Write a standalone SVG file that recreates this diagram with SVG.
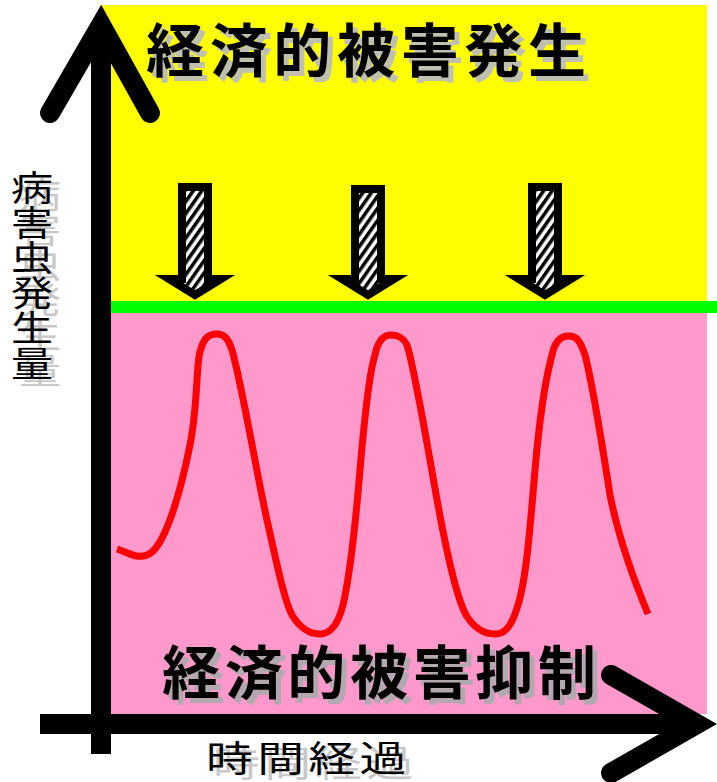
<svg xmlns="http://www.w3.org/2000/svg" width="717" height="782" viewBox="0 0 717 782">
<style>
.title{font-family:"Noto Sans CJK JP","Noto Sans CJK SC",sans-serif;font-weight:bold;font-size:58px;}
.lbl{font-family:"Noto Sans CJK JP","Noto Sans CJK SC",sans-serif;font-size:35px;}
.ax{fill:none;stroke:#000;stroke-width:20;}
.blk{fill:url(#hatch);stroke:#000;stroke-width:8;stroke-linejoin:miter;stroke-miterlimit:10;}
</style>
<defs>
<pattern id="hatch" width="7" height="7" patternUnits="userSpaceOnUse" patternTransform="rotate(35)">
<rect width="7" height="7" fill="#fff"/>
<rect width="3.5" height="7" fill="#000"/>
</pattern>
</defs>
<g id="zones">
<rect x="101" y="5" width="606" height="297" fill="#ffff00"/>
<rect x="101" y="313" width="606" height="401" fill="#ff99cc"/>
<rect x="101" y="301" width="616" height="12" fill="#00ff00"/>
</g>
<g id="curve">
<path d="M117,549 C127,552 140,562 152,552 C166,540 180,495 190,445 C198,405 196,365 200,352 C204,336 210,334 217,334 C224,334 228,338 232,350 C242,385 256,470 267,520 C276,560 284,600 292,615 C300,628 310,634 320,634 C330,634 338,625 343,605 C350,575 355,530 360,470 C366,400 370,370 375,355 C378,340 384,335 391,335 C398,335 403,337 407,345 C415,370 428,450 438,505 C448,560 458,600 466,615 C474,628 484,634 495,634 C506,634 512,625 518,605 C526,580 530,530 535,470 C541,400 548,370 552,355 C555,340 562,336 569,336 C576,336 580,340 585,355 C593,385 603,450 610,495 C620,545 638,590 648,614" fill="none" stroke="#ff0000" stroke-width="7" stroke-linejoin="round"/>
</g>
<g id="arrows">
<path class="blk" d="M182,187 L208,187 L208,279 L221,279 L195,295 L169,279 L182,279 Z"/>
<path class="blk" d="M355,189 L381,189 L381,279 L394,279 L368,295 L342,279 L355,279 Z"/>
<path class="blk" d="M532,187 L558,187 L558,279 L571,279 L545,295 L519,279 L532,279 Z"/>
</g>
<g id="axes">
<line class="ax" x1="101" y1="28" x2="101" y2="754"/>
<polyline class="ax" points="50,113 101,25 150,113" stroke-linecap="round" stroke-linejoin="miter"/>
<line class="ax" x1="40" y1="724" x2="700" y2="724"/>
<polyline class="ax" points="611,675 697,724 611,773" stroke-linecap="round" stroke-linejoin="miter"/>
</g>
<g id="title-top">
<text class="title" x="151" y="77" textLength="440" lengthAdjust="spacing" fill="#c0c0b0">経済的被害発生</text>
<text class="title" x="146" y="72" textLength="440" lengthAdjust="spacing" fill="#000">経済的被害発生</text>
</g>
<g id="title-bottom">
<text class="title" x="167" y="699" textLength="434" lengthAdjust="spacing" fill="#b4a8b0">経済的被害抑制</text>
<text class="title" x="162" y="694" textLength="434" lengthAdjust="spacing" fill="#000">経済的被害抑制</text>
</g>
<g id="ylabel" class="lbl" text-anchor="middle">
<g fill="#c8c8c8" transform="translate(40,7) scale(1.2,1)">
<text x="0" y="201">病</text><text x="0" y="236">害</text><text x="0" y="271">虫</text><text x="0" y="306">発</text><text x="0" y="341">生</text><text x="0" y="377">量</text>
</g>
<g fill="#000" transform="translate(32,0) scale(1.2,1)">
<text x="0" y="201">病</text><text x="0" y="236">害</text><text x="0" y="271">虫</text><text x="0" y="306">発</text><text x="0" y="341">生</text><text x="0" y="377">量</text>
</g>
</g>
<g id="xlabel" class="lbl">
<text fill="#c8c8c8" transform="translate(213,777) scale(1.3,1)" font-size="36" x="0" y="0" textLength="154" lengthAdjust="spacing">時間経過</text>
<text fill="#000" transform="translate(206,772) scale(1.3,1)" font-size="36" x="0" y="0" textLength="154" lengthAdjust="spacing">時間経過</text>
</g>
</svg>
